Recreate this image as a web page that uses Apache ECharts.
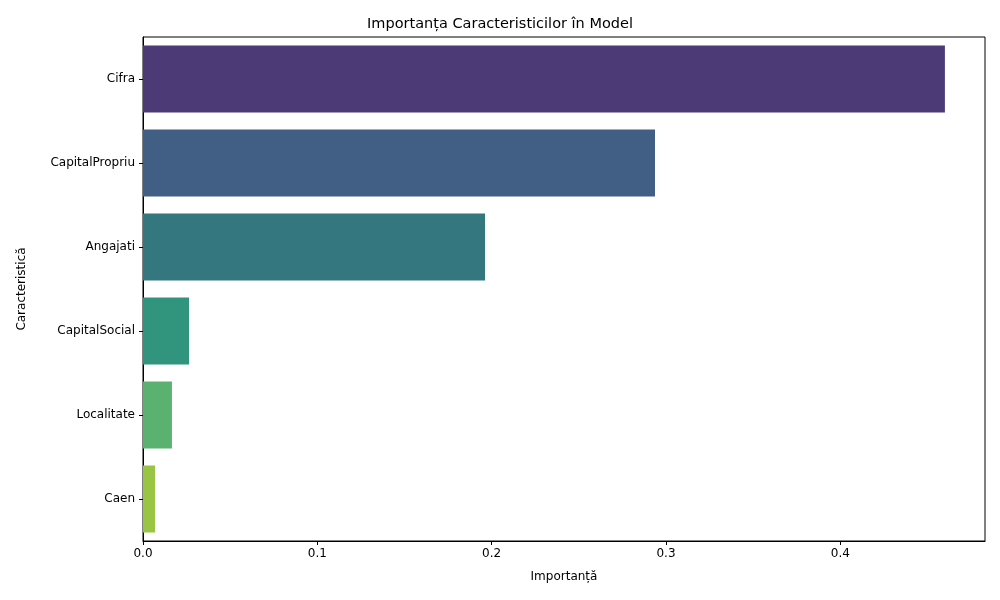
<!DOCTYPE html>
<html><head><meta charset="utf-8">
<script src="https://cdn.jsdelivr.net/npm/echarts@6/dist/echarts.min.js"></script>
<style>html,body{margin:0;padding:0;background:#fff}#c{width:1000px;height:600px}</style>
</head><body><div id="c"></div>
<script>
const categories = ["Cifra","CapitalPropriu","Angajati","CapitalSocial","Localitate","Caen"];
const values = [0.460, 0.2937, 0.1962, 0.0264, 0.0166, 0.0069];
const colors = ["#4b3a75","#415e85","#34777f","#31947d","#5bb270","#9ac443"];
const chart = echarts.init(document.getElementById('c'));
const font = "DejaVu Sans";
chart.setOption({
  animation:false,
  title:{text:"Importanța Caracteristicilor în Model",left:'center',top:12,textStyle:{fontFamily:font,fontSize:14.5,fontWeight:'normal',color:'#000'}},
  grid:{left:143,right:15,top:37,bottom:59,show:true,borderColor:'#000',borderWidth:1},
  xAxis:{type:'value',min:0,max:0.483,interval:0.1,name:"Importanță",nameLocation:'middle',nameGap:30,
    nameTextStyle:{fontFamily:font,fontSize:12,color:'#000'},
    splitLine:{show:false},axisLine:{show:true,lineStyle:{color:'#000'}},
    axisTick:{show:true,length:4,lineStyle:{color:'#000'}},
    axisLabel:{showMaxLabel:false,fontFamily:font,fontSize:12,color:'#000',margin:7,formatter:v=>v.toFixed(1)}},
  yAxis:{type:'category',data:categories,inverse:true,name:"Caracteristică",nameLocation:'middle',nameGap:115,nameRotate:90,
    nameTextStyle:{fontFamily:font,fontSize:12,color:'#000'},
    axisLine:{show:true,lineStyle:{color:'#000'}},axisTick:{show:true,length:4,alignWithLabel:true,lineStyle:{color:'#000'}},
    axisLabel:{fontFamily:font,fontSize:12,color:'#000',margin:8}},
  series:[{type:'bar',barWidth:'80%',data:values.map((v,i)=>({value:v,itemStyle:{color:colors[i]}}))}]
});
</script></body></html>
